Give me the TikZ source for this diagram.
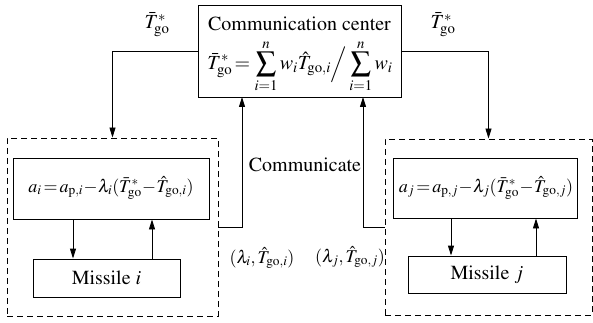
\documentclass[tikz,border=0pt]{standalone}
\usepackage[T1]{fontenc}
\usepackage{amsmath}
\usepackage{mathptmx}
\usetikzlibrary{arrows.meta}
\newcommand{\gosub}{\text{go}}
\begin{document}
\begin{tikzpicture}[x=1pt,y=-1pt,
  box/.style={draw, line width=0.9pt, inner sep=0pt, align=center, font=\fontsize{20}{24}\selectfont},
  dbox/.style={draw, dashed, dash pattern=on 6pt off 4pt, line width=0.9pt, inner sep=0pt},
  lbl/.style={inner sep=0pt, font=\fontsize{20}{24}\selectfont},
  flbl/.style={inner sep=0pt, font=\fontsize{18}{22}\selectfont},
  arr/.style={line width=0.9pt, -{Triangle[length=10pt,width=6pt]}},
  ln/.style={line width=0.9pt}]
\useasboundingbox (0,0) rectangle (593,323);
% Communication center
\node[box, minimum width=203pt, minimum height=92pt] (comm) at (299.5,51) {};
\node[lbl] (ctitle) at (299.5,24) {Communication center};
\node[lbl] (cform) at (300,66)
  {$\displaystyle \bar{T}^{*}_{\gosub}\!=\sum_{i=1}^{n} w_i\hat{T}_{\gosub,i}\Big/\sum_{i=1}^{n} w_i$};
% left group
\node[dbox, minimum width=211pt, minimum height=178pt] (ldash) at (112.5,227) {};
\node[box, minimum width=196pt, minimum height=61pt] (linner) at (111,188.5) {};
\node[flbl] (lform) at (111,188)
  {$a_i\!=\!a_{\text{p},i}\!-\!\lambda_i(\bar{T}^{*}_{\gosub}\!-\!\hat{T}_{\gosub,i})$};
\node[box, minimum width=147pt, minimum height=38pt] (mi) at (106.5,278) {Missile $i$};
% right group
\node[dbox, minimum width=207pt, minimum height=176pt] (rdash) at (488.5,227) {};
\node[box, minimum width=184pt, minimum height=60pt] (rinner) at (485,188) {};
\node[flbl] (rform) at (486,188)
  {$a_j\!=\!a_{\text{p},j}\!-\!\lambda_j(\bar{T}^{*}_{\gosub}\!-\!\hat{T}_{\gosub,j})$};
\node[box, minimum width=158pt, minimum height=37pt] (mj) at (487,274.5) {Missile $j$};
% labels
\node[lbl] (tl) at (157,25) {$\bar{T}^{*}_{\gosub}$};
\node[lbl] (tr) at (443,25) {$\bar{T}^{*}_{\gosub}$};
\node[lbl] (comlbl) at (305,165) {Communicate};
\node[flbl] (li) at (262,258) {$(\lambda_i,\hat{T}_{\gosub,i})$};
\node[flbl] (lj) at (350,257) {$(\lambda_j,\hat{T}_{\gosub,j})$};
% connectors
\coordinate (cl) at (242,97);
\coordinate (cr) at (363,97);
\draw[arr] (comm.west) -| (ldash.north);
\draw[arr] (comm.east) -| (rdash.north);
\draw[arr] (ldash.east) -| (cl);
\draw[arr] (rdash.west) -| (cr);
\draw[arr] (linner.south -| 73,0) -- (mi.north -| 73,0);
\draw[arr] (mi.north -| 152,0) -- (linner.south -| 152,0);
\draw[arr] (rinner.south -| 451,0) -- (mj.north -| 451,0);
\draw[arr] (mj.north -| 536,0) -- (rinner.south -| 536,0);
\end{tikzpicture}
\end{document}
